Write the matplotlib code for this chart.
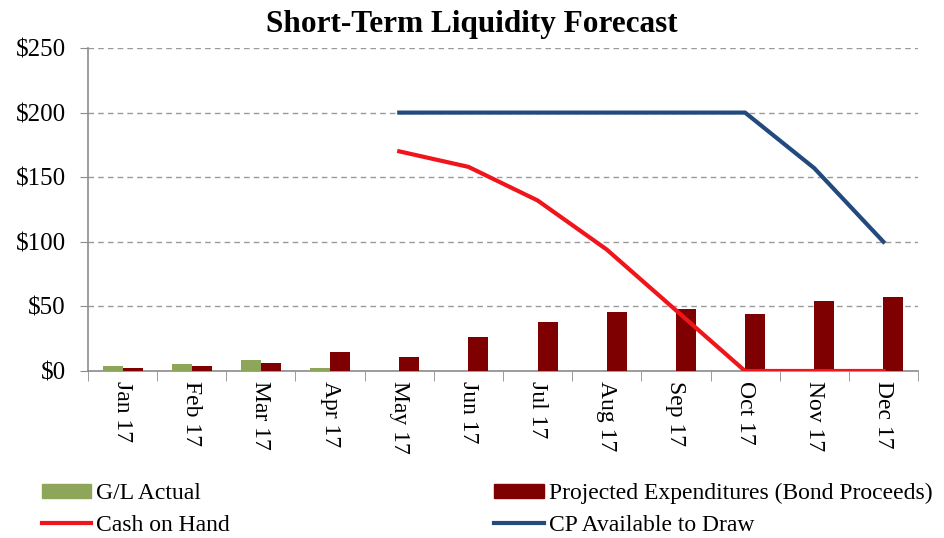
import matplotlib
matplotlib.use("Agg")
import matplotlib.pyplot as plt
import numpy as np
from matplotlib.patches import Patch
from matplotlib.lines import Line2D

months = ["Jan 17", "Feb 17", "Mar 17", "Apr 17", "May 17", "Jun 17",
          "Jul 17", "Aug 17", "Sep 17", "Oct 17", "Nov 17", "Dec 17"]
gl_actual = [3.6, 5.2, 8.8, 2.3, None, None, None, None, None, None, None, None]
projected = [2.6, 3.6, 6.2, 15, 11, 26, 38, 46, 48, 44.5, 54.5, 57]
cash_on_hand = [None, None, None, None, 170, 158, 132, 94, 47, 0, 0, 0]
cp_available = [None, None, None, None, 200, 200, 200, 200, 200, 200, 157, 100]
y_ticks = [0, 50, 100, 150, 200, 250]
y_labels = ["$0", "$50", "$100", "$150", "$200", "$250"]

GREEN = "#8EA65A"
DARKRED = "#7F0000"
RED = "#F0141B"
BLUE = "#234A7C"
GRAY = "#8C8C8C"

plt.rcParams['font.family'] = ['Liberation Serif', 'DejaVu Serif']

fig = plt.figure(figsize=(9.44, 5.38), dpi=100)
ax = fig.add_axes([88/944, 1-371/538, (918-88)/944, (371-48)/538])

x = np.arange(len(months))
w = 0.29
gl_x = [xi - w/2 for xi, v in zip(x, gl_actual) if v is not None]
gl_v = [v for v in gl_actual if v is not None]
ax.bar(gl_x, gl_v, width=w, color=GREEN, zorder=3)
ax.bar(x + w/2, projected, width=w, color=DARKRED, zorder=3)

def seg(vals):
    xs = [xi for xi, v in zip(x, vals) if v is not None]
    vs = [v for v in vals if v is not None]
    return xs, vs

cx, cv = seg(cash_on_hand)
ax.plot(cx, cv, color=RED, lw=3, zorder=4, solid_joinstyle='round')
bx, bv = seg(cp_available)
ax.plot(bx, bv, color=BLUE, lw=3, zorder=4, solid_joinstyle='round')

ax.set_xlim(-0.5, len(months) - 0.5)
ax.set_ylim(0, 250)
ax.set_yticks(y_ticks)
ax.set_yticklabels(y_labels, fontsize=18)
ax.set_xticks(x)
ax.set_xticklabels(months, rotation=270, fontsize=17, ha='center', va='top')
ax.set_xticks(np.arange(-0.5, len(months) + 0.5, 1), minor=True)
ax.tick_params(axis='x', which='major', length=0, pad=7)
ax.tick_params(axis='x', which='minor', length=7, color=GRAY, direction='out')
ax.tick_params(axis='y', length=6, color=GRAY, pad=10)

for s in ['top', 'right']:
    ax.spines[s].set_visible(False)
for s in ['left', 'bottom']:
    ax.spines[s].set_color(GRAY)
    ax.spines[s].set_linewidth(1.2)

ax.yaxis.grid(True, linestyle=(0, (4, 3)), color="#9A9A9A", lw=1, zorder=0)
ax.set_axisbelow(True)

fig.text(0.5, 0.955, "Short-Term Liquidity Forecast", ha='center', va='center',
         fontsize=22.5, fontweight='bold')

handles = [Patch(color=GREEN), Line2D([], [], color=RED, lw=3),
           Patch(color=DARKRED), Line2D([], [], color=BLUE, lw=3)]
labels = ["G/L Actual", "Cash on Hand",
          "Projected Expenditures (Bond Proceeds)", "CP Available to Draw"]
fig.legend(handles, labels, ncol=2, loc='upper left',
           bbox_to_anchor=(30/944, 1-471/538), frameon=False, fontsize=17,
           handlelength=2.1, handleheight=0.55, handletextpad=0.2,
           columnspacing=11.2, labelspacing=0.45, borderpad=0)

fig.savefig("out.png", dpi=100)
